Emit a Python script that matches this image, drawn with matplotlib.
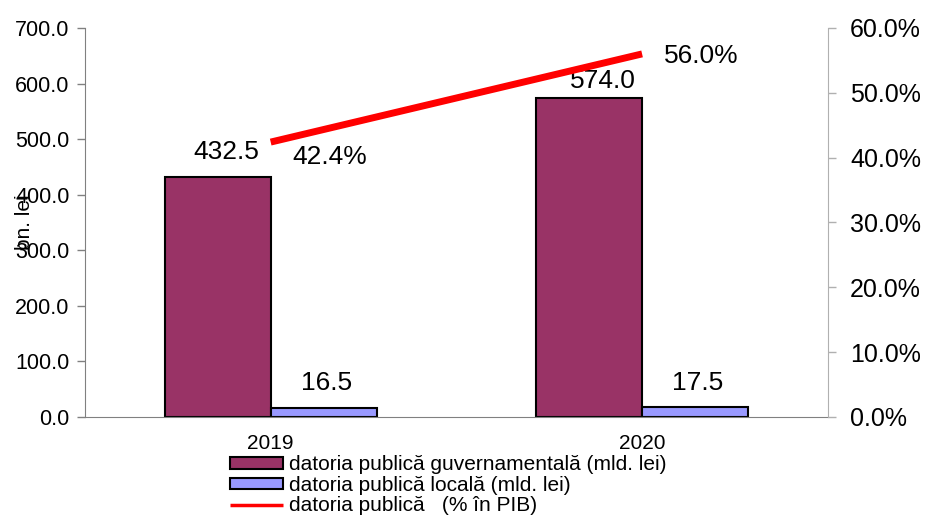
import matplotlib
matplotlib.use("Agg")
import matplotlib.pyplot as plt
import numpy as np
from matplotlib.ticker import FuncFormatter

plt.rcParams["font.family"] = ["Liberation Sans", "DejaVu Sans"]

years = ["2019", "2020"]
gov_debt = [432.5, 574.0]      # mld. lei
local_debt = [16.5, 17.5]      # mld. lei
debt_pct_gdp = [42.4, 56.0]    # % in PIB

fig = plt.figure(figsize=(9.28, 5.18), dpi=100)
ax = fig.add_axes([0.0916, 0.195, 0.8004, 0.751])
ax2 = ax.twinx()

x = np.arange(len(years))
w = 0.285
ax.bar(x - w / 2, gov_debt, w, color="#993366", edgecolor="black", linewidth=1.5,
       label="datoria publică guvernamentală (mld. lei)", zorder=2)
ax.bar(x + w / 2, local_debt, w, color="#9999FF", edgecolor="black", linewidth=1.5,
       label="datoria publică locală (mld. lei)", zorder=2)

# value labels
for xi, v, dx, dy in zip(x, gov_debt, [-0.12, -0.105], [44, 30]):
    ax.text(xi + dx, v + dy, f"{v:.1f}", ha="center", va="center", fontsize=19)
for xi, v in zip(x, local_debt):
    ax.text(xi + 0.15, v + 44, f"{v:.1f}", ha="center", va="center", fontsize=19)

ax.set_xlim(-0.5, 1.5)
ax.set_ylim(0, 700)
ax.set_yticks(np.arange(0, 701, 100))
ax.yaxis.set_major_formatter(FuncFormatter(lambda v, p: f"{v:.1f}"))
ax.set_xticks(x)
ax.set_xticklabels(years)
ax.tick_params(axis="x", length=0, labelsize=15, pad=12)
ax.tick_params(axis="y", labelsize=15.5, color="#808080", length=6, width=1, pad=5)
ax.set_ylabel("bn. lei", fontsize=15)
ax.yaxis.set_label_coords(-0.068, 0.5)

ax2.plot(x, debt_pct_gdp, color="#FF0000", linewidth=5,
         label="datoria publică   (% în PIB)", zorder=3, solid_capstyle="butt")
for xi, v, dx, dy in zip(x, debt_pct_gdp, [0.16, 0.16], [-2.3, -0.3]):
    ax2.text(xi + dx, v + dy, f"{v:.1f}%", ha="center", va="center", fontsize=19)
ax2.set_ylim(0, 60)
ax2.set_yticks(np.arange(0, 61, 10))
ax2.yaxis.set_major_formatter(FuncFormatter(lambda v, p: f"{v:.1f}%"))
ax2.tick_params(axis="y", labelsize=18, color="#B0B0B0", length=6, width=1, pad=10)

for a in (ax, ax2):
    a.spines["top"].set_visible(False)
ax.spines["left"].set_color("#808080")
ax.spines["bottom"].set_color("#808080")
ax.spines["right"].set_visible(False)
ax2.spines["left"].set_visible(False)
ax2.spines["bottom"].set_visible(False)
ax2.spines["right"].set_color("#B0B0B0")

h1, l1 = ax.get_legend_handles_labels()
h2, l2 = ax2.get_legend_handles_labels()
leg = fig.legend(h1 + h2, l1 + l2, loc="upper left", bbox_to_anchor=(0.237, 0.141),
                 frameon=False, fontsize=15, handlelength=2.55, handleheight=0.5,
                 handletextpad=0.25, labelspacing=0.07, borderpad=0)
leg.get_lines()[0].set_linewidth(2.5)

fig.savefig("out.png", dpi=100)
